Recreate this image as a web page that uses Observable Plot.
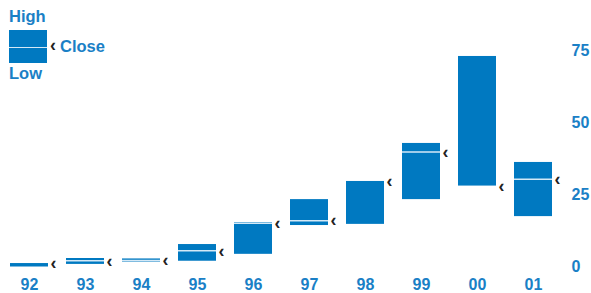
<!DOCTYPE html>
<html>
<head>
<meta charset="utf-8">
<script src="https://cdn.jsdelivr.net/npm/d3@7"></script>
<script src="https://cdn.jsdelivr.net/npm/@observablehq/plot@0.6"></script>
<style>
  html, body { margin: 0; padding: 0; background: #fff; }
  #wrap { position: relative; width: 591px; height: 293px; font-family: "Liberation Sans", Arial, sans-serif; }
  #wrap svg { position: absolute; left: 0; top: 0; }
  .lg { position: absolute; color: #1a80c6; font-weight: bold; font-size: 16.5px; line-height: 1; }
</style>
</head>
<body>
<div id="wrap"></div>
<script>
const years = ["92","93","94","95","96","97","98","99","00","01"];
const high  = [1.2, 2.95, 2.8, 7.8, 15.4, 23.4, 29.7, 42.9, 73.1, 36.3];
const low   = [0, 0.9, 1.7, 2.0, 4.4, 14.4, 14.8, 23.4, 28.1, 17.5];
const close = [1.2, 2.15, 2.25, 5.6, 15.2, 16.1, 29.7, 39.9, 28.1, 30.5];
const yTicks = [0, 25, 50, 75];

const data = years.map((y, i) => ({year: y, high: high[i], low: low[i], close: close[i]}));
const barColor = "#0079c1";
const textColor = "#1a80c6";

const chart = Plot.plot({
  width: 591,
  height: 293,
  marginTop: 50.5,
  marginBottom: 26.5,
  marginLeft: 9,
  marginRight: 38,
  style: {fontFamily: "'Liberation Sans', Arial, sans-serif", fontSize: "16px", fontWeight: "bold", color: textColor, background: "transparent"},
  x: {type: "band", domain: years, paddingInner: 0.324, paddingOuter: 0, label: null},
  y: {domain: [0, 75], label: null},
  marks: [
    Plot.axisX({tickSize: 0, tickPadding: 11.5, label: null, fill: textColor, fontSize: 16}),
    Plot.axisY({anchor: "right", ticks: yTicks, tickSize: 0, tickPadding: 18, label: null, fill: textColor, fontSize: 16}),
    Plot.barY(data, {x: "year", y1: "low", y2: "high", fill: barColor}),
    Plot.tickY(data.filter(d => d.close > d.low && d.close < d.high), {x: "year", y: "close", stroke: "#d4e9f7", strokeWidth: 1.5}),
    Plot.text(data, {x: "year", y: "close", text: () => "‹", dx: 24, dy: 0, fill: "#222", fontSize: 18, fontWeight: "bold", textAnchor: "middle"})
  ]
});
const wrap = document.getElementById("wrap");
wrap.appendChild(chart);

// legend overlay
function add(html, css) {
  const d = document.createElement("div");
  d.className = "lg";
  d.innerHTML = html;
  Object.assign(d.style, css);
  wrap.appendChild(d);
}
add("High", {left: "9px", top: "8px"});
add("", {left: "9px", top: "30px", width: "38px", height: "33px", background: barColor});
add("", {left: "9px", top: "46.5px", width: "38px", height: "1.5px", background: "#d4e9f7"});
add("‹", {left: "50px", top: "36px", color: "#222", fontSize: "18px"});
add("Close", {left: "60px", top: "38px"});
add("Low", {left: "9px", top: "65px"});
</script>
</body>
</html>
